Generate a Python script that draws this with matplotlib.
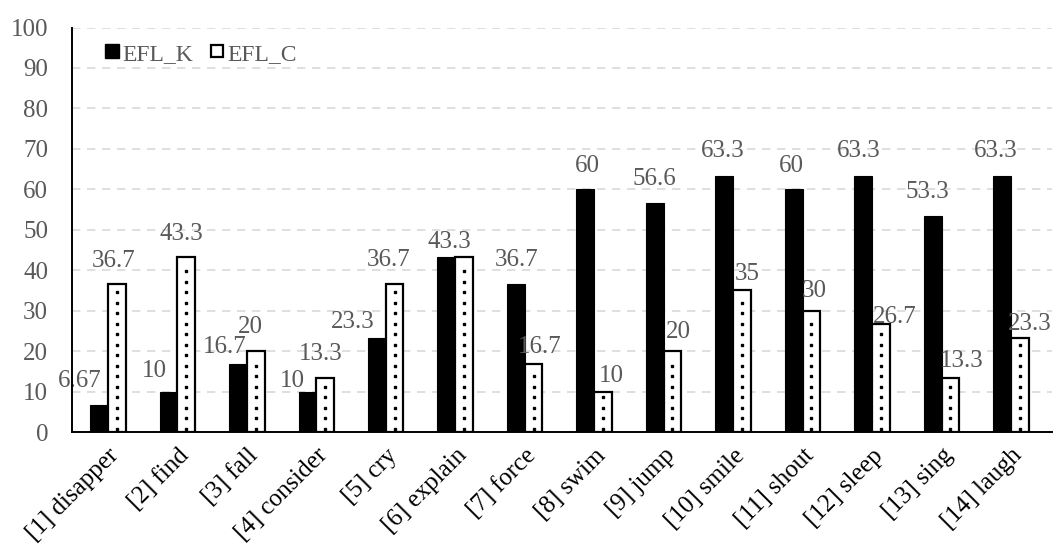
import numpy as np
import matplotlib
matplotlib.use("Agg")
import matplotlib.pyplot as plt

plt.rcParams['font.family'] = ['Liberation Serif', 'DejaVu Serif']

categories = ['[1] disapper', '[2] find', '[3] fall', '[4] consider', '[5] cry',
              '[6] explain', '[7] force', '[8] swim', '[9] jump', '[10] smile',
              '[11] shout', '[12] sleep', '[13] sing', '[14] laugh']
efl_k = [6.67, 10, 16.7, 10, 23.3, 43.3, 36.7, 60, 56.6, 63.3, 60, 63.3, 53.3, 63.3]
efl_c = [36.7, 43.3, 20, 13.3, 36.7, 43.3, 16.7, 10, 20, 35, 30, 26.7, 13.3, 23.3]
k_labels = ['6.67', '10', '16.7', '10', '23.3', '43.3', '36.7', '60', '56.6', '63.3', '60', '63.3', '53.3', '63.3']
# the EFL_C label of [6] sits exactly under the EFL_K one in the original, so only one shows
c_labels = ['36.7', '43.3', '20', '13.3', '36.7', '', '16.7', '10', '20', '35', '30', '26.7', '13.3', '23.3']

# label nudges in pixels (the original moved some labels to avoid overlaps)
k_dx = [-19, -14, -13, -15, -24, 3, 1, 2, 0, -1, -2, -4, -5, -6]
k_dy = [18, 15, 11, 5, 10, 9, 18, 17, 18, 19, 17, 19, 18, 19]
c_dx = [-3, -5, -5, -4, -6, 0, 6, 8, 6, 5, 3, 14, 11, 10]
c_dy = [17, 17, 18, 18, 18, 9, 11, 10, 13, 10, 14, 1, 11, 8]

fig = plt.figure(figsize=(10.64, 5.49), dpi=100)
ax = fig.add_axes([0.0674, 0.2131, 0.9213, 0.7368])

x = np.arange(len(categories))
w = 0.255
label_color = '#595959'

ax.bar(x - w / 2, efl_k, w, color='black', edgecolor='black', linewidth=0.8, zorder=3)
ax.bar(x + w / 2, efl_c, w, color='white', edgecolor='black', linewidth=1.6, zorder=3)

# dotted pattern inside the EFL_C bars
for xi, v in zip(x, efl_c):
    ys = np.arange(0.8, v - 1.0, 2.6)
    ax.plot(np.full(len(ys), xi + w / 2), ys, linestyle='none', marker='s',
            markersize=2.0, color='black', zorder=4)

for xi, v, t, dx, dy in zip(x, efl_k, k_labels, k_dx, k_dy):
    ax.annotate(t, (xi - w / 2, v), xytext=(dx, dy), textcoords='offset pixels',
                ha='center', va='baseline', fontsize=18, color=label_color, zorder=5)
for xi, v, t, dx, dy in zip(x, efl_c, c_labels, c_dx, c_dy):
    if not t:
        continue
    ax.annotate(t, (xi + w / 2, v), xytext=(dx, dy), textcoords='offset pixels',
                ha='center', va='baseline', fontsize=18, color=label_color, zorder=5)

ax.set_xlim(-0.52, len(categories) - 0.41)
ax.set_ylim(0, 100)
ax.set_yticks(range(0, 101, 10))
ax.yaxis.grid(True, linestyle=(0, (5, 4)), color='#d9d9d9', linewidth=1.2, zorder=0)
ax.set_axisbelow(True)

for s in ['right', 'top']:
    ax.spines[s].set_visible(False)
for s in ['left', 'bottom']:
    ax.spines[s].set_color('black')
    ax.spines[s].set_linewidth(1.4)
    ax.spines[s].set_zorder(6)

ax.tick_params(axis='both', length=0)
ax.tick_params(axis='y', labelsize=18, labelcolor=label_color, pad=17)
ax.set_xticks(x)
ax.set_xticklabels(categories, rotation=45, ha='right', rotation_mode='anchor',
                   fontsize=18, color='black')
ax.tick_params(axis='x', pad=9)

# legend
hk = plt.Line2D([], [], linestyle='none', marker='s', markersize=10,
                markerfacecolor='black', markeredgecolor='black')
hc = plt.Line2D([], [], linestyle='none', marker='s', markersize=9,
                markerfacecolor='white', markeredgecolor='black', markeredgewidth=1.6)
leg = ax.legend([hk, hc], ['EFL_K', 'EFL_C'], loc='center left',
                bbox_to_anchor=(0.031, 0.935), ncol=2, frameon=False,
                fontsize=17, handletextpad=0.05, columnspacing=0.6,
                handlelength=0.8, borderpad=0, borderaxespad=0)
for t in leg.get_texts():
    t.set_color(label_color)

fig.savefig('out.png', dpi=100)
